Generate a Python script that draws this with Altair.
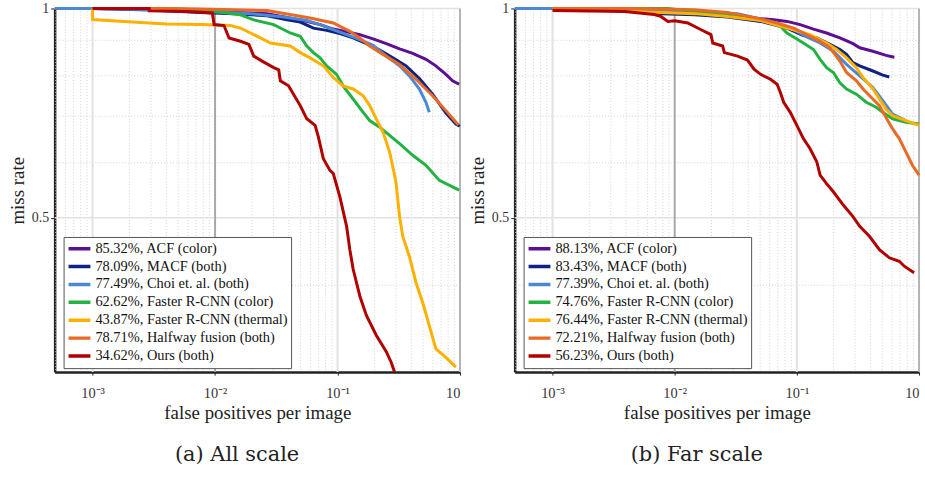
import altair as alt
import pandas as pd

FONT = "Liberation Serif"

methods = ["ACF (color)", "MACF (both)", "Choi et. al. (both)", "Faster R-CNN (color)",
           "Faster R-CNN (thermal)", "Halfway fusion (both)", "Ours (both)"]
colors = ["#5b0f93", "#0d2383", "#4a88d4", "#22b243", "#ffb000", "#e96a24", "#b00000"]
rates_all = ["85.32%", "78.09%", "77.49%", "62.62%", "43.87%", "78.71%", "34.62%"]
rates_far = ["88.13%", "83.43%", "77.39%", "74.76%", "76.44%", "72.21%", "56.23%"]

x_tick_values = [0.001, 0.01, 0.1, 1]
y_tick_values = [0.5, 1]
x_minor_grid = [0.0005, 0.0006, 0.0007, 0.0008, 0.0009,
                0.002, 0.003, 0.004, 0.005, 0.006, 0.007, 0.008, 0.009,
                0.02, 0.03, 0.04, 0.05, 0.06, 0.07, 0.08, 0.09,
                0.2, 0.3, 0.4, 0.5, 0.6, 0.7, 0.8, 0.9]
y_major_grid = [0.5, 1.0]
y_minor_grid = [0.4, 0.6, 0.7, 0.8, 0.9]

# ---------------- (a) All scale ----------------
a_acf_fppi = [0.001, 0.003, 0.01, 0.0266, 0.0496, 0.072, 0.0923, 0.1186, 0.152, 0.195, 0.25, 0.321, 0.411, 0.527, 0.635, 0.767, 0.869, 0.984]
a_acf_mr = [1.0, 0.998, 0.99, 0.983, 0.963, 0.948, 0.934, 0.926, 0.917, 0.904, 0.89, 0.875, 0.862, 0.845, 0.827, 0.804, 0.787, 0.778]

a_macf_fppi = [0.001, 0.003, 0.00766, 0.01426, 0.0266, 0.0386, 0.0496, 0.0635, 0.0815, 0.1045, 0.134, 0.172, 0.221, 0.283, 0.363, 0.466, 0.597, 0.767, 0.925, 0.995]
a_macf_mr = [1.0, 0.995, 0.987, 0.983, 0.976, 0.963, 0.956, 0.937, 0.93, 0.92, 0.907, 0.89, 0.871, 0.849, 0.827, 0.793, 0.753, 0.707, 0.682, 0.677]

a_choi_fppi = [0.00049, 0.001, 0.005, 0.01945, 0.0363, 0.0561, 0.072, 0.0923, 0.1186, 0.152, 0.195, 0.25, 0.321, 0.386, 0.466, 0.527, 0.561]
a_choi_mr = [1.0, 1.0, 0.995, 0.983, 0.972, 0.961, 0.948, 0.932, 0.917, 0.902, 0.885, 0.854, 0.827, 0.80, 0.766, 0.733, 0.709]

a_frc_fppi = [0.001, 0.004, 0.008, 0.01614, 0.0207, 0.0301, 0.0411, 0.0496, 0.0561, 0.0635, 0.072, 0.0815, 0.0982, 0.111, 0.134, 0.162, 0.183, 0.221, 0.266, 0.321, 0.411, 0.527, 0.678, 0.984]
a_frc_mr = [1.0, 1.0, 0.995, 0.979, 0.963, 0.948, 0.922, 0.912, 0.883, 0.864, 0.849, 0.827, 0.804, 0.774, 0.741, 0.709, 0.69, 0.675, 0.657, 0.639, 0.615, 0.595, 0.566, 0.548]

a_frt_fppi = [0.001, 0.001, 0.00196, 0.004, 0.00766, 0.01339, 0.01614, 0.01945, 0.0235, 0.0283, 0.0411, 0.0496, 0.0597, 0.0766, 0.0923, 0.111, 0.134, 0.162, 0.183, 0.207, 0.235, 0.266, 0.292, 0.301, 0.321, 0.341, 0.386, 0.438, 0.495, 0.561, 0.635, 0.767, 0.925]
a_frt_mr = [1.0, 0.964, 0.957, 0.95, 0.948, 0.945, 0.937, 0.922, 0.907, 0.892, 0.883, 0.864, 0.849, 0.827, 0.796, 0.774, 0.766, 0.749, 0.725, 0.694, 0.664, 0.622, 0.576, 0.56, 0.502, 0.47, 0.44, 0.403, 0.378, 0.35, 0.324, 0.315, 0.305]

a_half_fppi = [0.001, 0.004, 0.00766, 0.0266, 0.0597, 0.0923, 0.126, 0.152, 0.183, 0.235, 0.321, 0.438, 0.597, 0.767, 0.97]
a_half_mr = [1.0, 1.0, 0.998, 0.993, 0.969, 0.953, 0.927, 0.907, 0.883, 0.859, 0.831, 0.791, 0.749, 0.713, 0.68]

a_ours_fppi = [0.001, 0.0029, 0.0029, 0.0059, 0.0095, 0.00982, 0.01183, 0.013, 0.01614, 0.0189, 0.0207, 0.0242, 0.0301, 0.0331, 0.0341, 0.0398, 0.0437, 0.0496, 0.0561, 0.0656, 0.0698, 0.0766, 0.0867, 0.0923, 0.1045, 0.1186, 0.126, 0.134, 0.152, 0.172, 0.207, 0.25, 0.274, 0.292]
a_ours_mr = [1.0, 1.0, 0.992, 0.99, 0.985, 0.948, 0.945, 0.907, 0.897, 0.888, 0.854, 0.84, 0.822, 0.816, 0.787, 0.774, 0.753, 0.725, 0.694, 0.679, 0.653, 0.608, 0.585, 0.579, 0.536, 0.486, 0.45, 0.422, 0.386, 0.362, 0.339, 0.321, 0.31, 0.3]

# ---------------- (b) Far scale ----------------
b_acf_fppi = [0.001, 0.01, 0.03, 0.0446, 0.0647, 0.083, 0.1064, 0.1368, 0.175, 0.225, 0.288, 0.327, 0.419, 0.537, 0.628]
b_acf_mr = [1.0, 0.99, 0.975, 0.969, 0.963, 0.958, 0.948, 0.934, 0.922, 0.907, 0.89, 0.878, 0.868, 0.856, 0.851]

b_macf_fppi = [0.001, 0.005, 0.0078, 0.01452, 0.0271, 0.0505, 0.083, 0.113, 0.1455, 0.1866, 0.225, 0.255, 0.288, 0.327, 0.419, 0.505, 0.571]
b_macf_mr = [1.0, 0.99, 0.983, 0.979, 0.972, 0.958, 0.937, 0.914, 0.907, 0.888, 0.873, 0.859, 0.836, 0.827, 0.813, 0.802, 0.797]

b_choi_fppi = [0.00049, 0.001, 0.005, 0.0327, 0.0608, 0.094, 0.1205, 0.155, 0.199, 0.255, 0.327, 0.419, 0.505, 0.608, 0.78]
b_choi_mr = [1.0, 1.0, 0.995, 0.983, 0.958, 0.932, 0.91, 0.892, 0.868, 0.831, 0.80, 0.77, 0.737, 0.705, 0.69]

b_frc_fppi = [0.001, 0.0088, 0.01452, 0.0271, 0.0505, 0.0733, 0.083, 0.094, 0.113, 0.1368, 0.155, 0.175, 0.199, 0.225, 0.255, 0.307, 0.37, 0.446, 0.505, 0.608, 0.78, 1.0]
b_frc_mr = [1.0, 1.0, 0.99, 0.983, 0.963, 0.943, 0.922, 0.91, 0.892, 0.873, 0.845, 0.822, 0.809, 0.782, 0.766, 0.753, 0.733, 0.721, 0.709, 0.694, 0.686, 0.682]

b_frt_fppi = [0.001, 0.003, 0.006, 0.01452, 0.0271, 0.0505, 0.094, 0.128, 0.175, 0.211, 0.255, 0.307, 0.348, 0.419, 0.474, 0.537, 0.608, 0.78, 1.0]
b_frt_mr = [1.0, 0.995, 0.988, 0.983, 0.974, 0.961, 0.932, 0.917, 0.892, 0.873, 0.849, 0.822, 0.796, 0.766, 0.741, 0.717, 0.701, 0.69, 0.679]

b_half_fppi = [0.001, 0.004, 0.0078, 0.01452, 0.0271, 0.0505, 0.0689, 0.094, 0.128, 0.155, 0.1866, 0.225, 0.255, 0.307, 0.348, 0.419, 0.474, 0.537, 0.608, 0.689, 0.78, 0.883, 1.0]
b_half_mr = [1.0, 1.0, 0.998, 0.996, 0.987, 0.966, 0.953, 0.937, 0.912, 0.897, 0.878, 0.84, 0.809, 0.787, 0.766, 0.741, 0.725, 0.697, 0.671, 0.65, 0.622, 0.595, 0.576]

b_ours_fppi = [0.001, 0.0039, 0.0068, 0.0077, 0.0088, 0.01, 0.0128, 0.01644, 0.0198, 0.0205, 0.0247, 0.0255, 0.0327, 0.0394, 0.0446, 0.0505, 0.0608, 0.0689, 0.0733, 0.078, 0.0883, 0.1, 0.113, 0.128, 0.1455, 0.155, 0.175, 0.199, 0.239, 0.288, 0.327, 0.394, 0.474, 0.571, 0.689, 0.757, 0.912]
b_ours_mr = [0.993, 0.99, 0.98, 0.974, 0.958, 0.96, 0.953, 0.932, 0.917, 0.892, 0.883, 0.864, 0.854, 0.843, 0.818, 0.804, 0.791, 0.778, 0.757, 0.733, 0.709, 0.679, 0.65, 0.629, 0.602, 0.576, 0.56, 0.545, 0.522, 0.502, 0.486, 0.47, 0.45, 0.438, 0.433, 0.426, 0.417]

all_series = [(a_acf_fppi, a_acf_mr), (a_macf_fppi, a_macf_mr), (a_choi_fppi, a_choi_mr),
              (a_frc_fppi, a_frc_mr), (a_frt_fppi, a_frt_mr), (a_half_fppi, a_half_mr),
              (a_ours_fppi, a_ours_mr)]
far_series = [(b_acf_fppi, b_acf_mr), (b_macf_fppi, b_macf_mr), (b_choi_fppi, b_choi_mr),
              (b_frc_fppi, b_frc_mr), (b_frt_fppi, b_frt_mr), (b_half_fppi, b_half_mr),
              (b_ours_fppi, b_ours_mr)]

X_DOMAIN = [0.00049, 1]
Y_DOMAIN = [0.3, 1]
LABEL_EXPR = ("datum.value >= 0.99 ? '10' : datum.value >= 0.099 ? '10⁻¹' : "
              "datum.value >= 0.0099 ? '10⁻²' : '10⁻³'")


def x_enc(field="fppi"):
    return alt.X(f"{field}:Q",
                 scale=alt.Scale(type="log", domain=X_DOMAIN, nice=False),
                 axis=alt.Axis(values=x_tick_values, labelExpr=LABEL_EXPR,
                               title="false positives per image", grid=False,
                               ticks=True, tickSize=3, tickColor="#222",
                               labelFontSize=14.5,
                               labelPadding=12, titlePadding=3))


def y_enc(field="mr"):
    return alt.Y(f"{field}:Q",
                 scale=alt.Scale(type="log", domain=Y_DOMAIN, nice=False),
                 axis=alt.Axis(values=y_tick_values, format="~g", title="miss rate",
                               grid=False, ticks=True, tickSize=4, tickColor="#222",
                               labelPadding=2, titlePadding=4))


def panel(series, rates, caption, width):
    labels = [f"{r}, {m}" for r, m in zip(rates, methods)]
    layers = []
    # grid lines
    layers.append(alt.Chart(pd.DataFrame({"fppi": x_minor_grid})).mark_rule(
        color="#d2d2d2", strokeWidth=1, strokeDash=[1, 2]).encode(x=x_enc()))
    layers.append(alt.Chart(pd.DataFrame({"mr": y_minor_grid})).mark_rule(
        color="#d2d2d2", strokeWidth=1, strokeDash=[1, 2]).encode(y=y_enc()))
    layers.append(alt.Chart(pd.DataFrame({"fppi": [0.001, 0.1]})).mark_rule(
        color="#e2e2e2", strokeWidth=2).encode(x=x_enc()))
    layers.append(alt.Chart(pd.DataFrame({"mr": y_major_grid})).mark_rule(
        color="#e2e2e2", strokeWidth=1.5).encode(y=y_enc()))
    layers.append(alt.Chart(pd.DataFrame({"fppi": [0.01]})).mark_rule(
        color="#a8a8a8", strokeWidth=2).encode(x=x_enc()))
    layers.append(alt.Chart(pd.DataFrame({"fppi": [1.0]})).mark_rule(
        color="#b4b4b4", strokeWidth=2).encode(x=x_enc()))

    legend = alt.Legend(orient="none", legendX=9, legendY=230, title=None,
                        symbolType="stroke", symbolSize=484, symbolStrokeWidth=3.5,
                        clipHeight=17.6,
                        labelFont=FONT, labelFontSize=14.5, labelColor="#111",
                        labelLimit=400, labelOffset=3,
                        strokeColor="#555", fillColor="white", padding=3,
                        rowPadding=0, symbolOffset=0)
    color = alt.Color("label:N", scale=alt.Scale(domain=labels, range=colors),
                      legend=legend)
    for lab, (fp, mr) in zip(labels, series):
        df = pd.DataFrame({"fppi": fp, "mr": mr, "label": lab, "i": list(range(len(fp)))})
        layers.append(alt.Chart(df).mark_line(strokeWidth=3).encode(
            x=x_enc(), y=y_enc(), color=color, order="i:Q"))
    return alt.layer(*layers).properties(
        width=width, height=366,
        title=alt.TitleParams(caption, orient="bottom", anchor="middle", frame="bounds",
                              font="DejaVu Serif", fontSize=21, fontWeight="normal",
                              color="#222", offset=22))


pa = panel(all_series, rates_all, "(a) All scale", 408)
pb = panel(far_series, rates_far, "(b) Far scale", 407)

chart = alt.hconcat(pa, pb, spacing=2).resolve_scale(color="independent").properties(
    padding={"left": 8, "top": 0, "right": 0, "bottom": 0}
).configure(font=FONT).configure_view(stroke=None).configure_axis(
    domainColor="#222", domainWidth=2.5,
    labelFont=FONT, labelFontSize=14, labelColor="#333",
    titleFont=FONT, titleFontSize=19, titleFontWeight="normal", titleColor="#222"
)

chart.save("out.html", embed_options={"renderer": "svg", "actions": False})
